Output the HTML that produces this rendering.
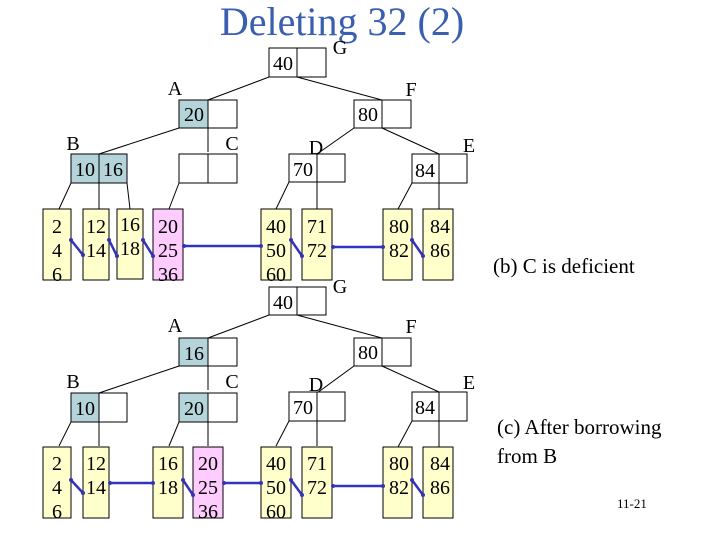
<!DOCTYPE html>
<html><head><meta charset="utf-8"><style>
html,body{margin:0;padding:0;background:#fff}
svg{display:block}
text{font-family:"Liberation Serif",serif}
</style></head><body>
<svg width="720" height="540" viewBox="0 0 720 540" xmlns="http://www.w3.org/2000/svg">
<defs>
<marker id="d" markerWidth="4" markerHeight="4" refX="2" refY="2" markerUnits="userSpaceOnUse"><circle cx="2" cy="2" r="2" fill="#3333bb"/></marker>
</defs>
<text x="342" y="35" font-size="40" fill="#3a5fb0" text-anchor="middle">Deleting 32 (2)</text>

<g stroke="#000" stroke-width="1" fill="none">
<!-- top tree -->
<line x1="269" y1="77" x2="208" y2="100"/><line x1="297" y1="77" x2="382" y2="100"/>
<line x1="179" y1="128" x2="99" y2="154"/><line x1="208" y1="128" x2="208" y2="152"/>
<line x1="354" y1="128" x2="317" y2="154"/><line x1="382" y1="128" x2="439" y2="154"/>
<line x1="71" y1="183" x2="59" y2="209"/><line x1="99" y1="183" x2="99" y2="209"/><line x1="127" y1="183" x2="130" y2="209"/>
<line x1="179" y1="183" x2="169" y2="209"/>
<line x1="289" y1="182" x2="276" y2="209"/><line x1="317" y1="182" x2="317" y2="209"/>
<line x1="412" y1="183" x2="398" y2="209"/><line x1="439" y1="183" x2="439" y2="209"/>
<!-- bottom tree -->
<line x1="269" y1="315" x2="208" y2="338"/><line x1="297" y1="315" x2="382" y2="338"/>
<line x1="179" y1="366" x2="99" y2="393"/><line x1="208" y1="366" x2="208" y2="390"/>
<line x1="354" y1="366" x2="317" y2="393"/><line x1="382" y1="366" x2="439" y2="392"/>
<line x1="71" y1="422" x2="59" y2="446"/><line x1="99" y1="422" x2="99" y2="446"/>
<line x1="179" y1="422" x2="169" y2="446"/><line x1="208" y1="422" x2="208" y2="446"/>
<line x1="289" y1="421" x2="276" y2="446"/><line x1="317" y1="421" x2="317" y2="446"/>
<line x1="412" y1="421" x2="398" y2="447"/><line x1="439" y1="421" x2="439" y2="447"/>
</g>

<g stroke="#000" stroke-width="1">
<!-- top internal nodes -->
<rect x="269" y="48" width="28" height="29" fill="#fff"/><rect x="297" y="48" width="29" height="29" fill="#fff"/>
<rect x="179" y="100" width="29" height="28" fill="#b4d4da"/><rect x="208" y="100" width="29" height="28" fill="#fff"/>
<rect x="354" y="100" width="28" height="28" fill="#fff"/><rect x="382" y="100" width="29" height="28" fill="#fff"/>
<rect x="71" y="154" width="28" height="29" fill="#b4d4da"/><rect x="99" y="154" width="28" height="29" fill="#b4d4da"/>
<rect x="179" y="154" width="29" height="29" fill="#fff"/><rect x="208" y="154" width="29" height="29" fill="#fff"/>
<rect x="289" y="154" width="28" height="28" fill="#fff"/><rect x="317" y="154" width="28" height="28" fill="#fff"/>
<rect x="412" y="154" width="27" height="29" fill="#fff"/><rect x="439" y="154" width="28" height="29" fill="#fff"/>
<!-- top leaves -->
<rect x="43" y="209" width="28" height="71" fill="#ffffcc"/>
<rect x="83" y="209" width="26" height="71" fill="#ffffcc"/>
<rect x="117" y="209" width="26" height="70" fill="#ffffcc"/>
<rect x="153" y="209" width="30" height="71" fill="#ffccff"/>
<rect x="261" y="209" width="30" height="71" fill="#ffffcc"/>
<rect x="302" y="209" width="30" height="71" fill="#ffffcc"/>
<rect x="383" y="209" width="29" height="71" fill="#ffffcc"/>
<rect x="423" y="209" width="30" height="71" fill="#ffffcc"/>
<!-- bottom internal -->
<rect x="269" y="287" width="28" height="28" fill="#fff"/><rect x="297" y="287" width="29" height="28" fill="#fff"/>
<rect x="179" y="338" width="29" height="28" fill="#b4d4da"/><rect x="208" y="338" width="29" height="28" fill="#fff"/>
<rect x="354" y="338" width="28" height="28" fill="#fff"/><rect x="382" y="338" width="29" height="28" fill="#fff"/>
<rect x="71" y="393" width="28" height="29" fill="#b4d4da"/><rect x="99" y="393" width="28" height="29" fill="#fff"/>
<rect x="179" y="393" width="29" height="29" fill="#b4d4da"/><rect x="208" y="393" width="29" height="29" fill="#fff"/>
<rect x="289" y="392" width="28" height="29" fill="#fff"/><rect x="317" y="392" width="28" height="29" fill="#fff"/>
<rect x="412" y="392" width="27" height="29" fill="#fff"/><rect x="439" y="392" width="28" height="29" fill="#fff"/>
<!-- bottom leaves -->
<rect x="43" y="447" width="28" height="71" fill="#ffffcc"/>
<rect x="83" y="447" width="26" height="71" fill="#ffffcc"/>
<rect x="153" y="447" width="30" height="71" fill="#ffffcc"/>
<rect x="193" y="447" width="30" height="71" fill="#ffccff"/>
<rect x="261" y="447" width="30" height="71" fill="#ffffcc"/>
<rect x="302" y="447" width="30" height="71" fill="#ffffcc"/>
<rect x="383" y="447" width="29" height="71" fill="#ffffcc"/>
<rect x="423" y="447" width="30" height="71" fill="#ffffcc"/>
</g>

<g stroke="#3333bb" stroke-width="2.5" marker-start="url(#d)" marker-end="url(#d)">
<line x1="71" y1="240" x2="83" y2="255"/>
<line x1="109" y1="240" x2="117" y2="256"/>
<line x1="143" y1="240" x2="153" y2="256"/>
<line x1="184" y1="246" x2="261" y2="246"/>
<line x1="291" y1="240" x2="302" y2="256"/>
<line x1="333" y1="247" x2="383" y2="247"/>
<line x1="412" y1="240" x2="423" y2="256"/>
<line x1="71" y1="480" x2="83" y2="493"/>
<line x1="110" y1="483" x2="153" y2="483"/>
<line x1="183" y1="480" x2="193" y2="495"/>
<line x1="224" y1="483" x2="261" y2="483"/>
<line x1="291" y1="480" x2="302" y2="495"/>
<line x1="333" y1="486" x2="383" y2="486"/>
<line x1="412" y1="480" x2="423" y2="495"/>
</g>

<g font-size="20" fill="#000" text-anchor="middle">
<!-- top nodes -->
<text x="283" y="70">40</text>
<text x="194" y="121">20</text>
<text x="368" y="121">80</text>
<text x="85" y="176">10</text><text x="113" y="176">16</text>
<text x="303" y="176">70</text>
<text x="425" y="177">84</text>
<!-- labels top -->
<text x="340" y="54">G</text><text x="175" y="95">A</text><text x="411" y="96">F</text>
<text x="73" y="150">B</text><text x="232" y="150">C</text><text x="316" y="154">D</text><text x="469" y="152">E</text>
<!-- top leaves -->
<text x="57" y="233">2</text><text x="57" y="257">4</text><text x="57" y="281">6</text>
<text x="96" y="233">12</text><text x="96" y="257">14</text>
<text x="130" y="231">16</text><text x="130" y="255">18</text>
<text x="168" y="233">20</text><text x="168" y="257">25</text><text x="168" y="281">36</text>
<text x="276" y="233">40</text><text x="276" y="257">50</text><text x="276" y="281">60</text>
<text x="317" y="233">71</text><text x="317" y="257">72</text>
<text x="399" y="233">80</text><text x="399" y="257">82</text>
<text x="440" y="233">84</text><text x="440" y="257">86</text>
<!-- bottom nodes -->
<text x="283" y="309">40</text>
<text x="194" y="360">16</text>
<text x="368" y="359">80</text>
<text x="85" y="415">10</text>
<text x="194" y="415">20</text>
<text x="303" y="414">70</text>
<text x="425" y="414">84</text>
<text x="340" y="293">G</text><text x="175" y="332">A</text><text x="411" y="333">F</text>
<text x="73" y="388">B</text><text x="232" y="388">C</text><text x="316" y="391">D</text><text x="469" y="389">E</text>
<!-- bottom leaves -->
<text x="57" y="470">2</text><text x="57" y="494">4</text><text x="57" y="518">6</text>
<text x="96" y="470">12</text><text x="96" y="494">14</text>
<text x="168" y="470">16</text><text x="168" y="494">18</text>
<text x="208" y="470">20</text><text x="208" y="494">25</text><text x="208" y="518">36</text>
<text x="276" y="470">40</text><text x="276" y="494">50</text><text x="276" y="518">60</text>
<text x="317" y="470">71</text><text x="317" y="494">72</text>
<text x="399" y="470">80</text><text x="399" y="494">82</text>
<text x="440" y="470">84</text><text x="440" y="494">86</text>
</g>

<g font-size="21" fill="#000">
<text x="493" y="273">(b) C is deficient</text>
<text x="497" y="434">(c) After borrowing</text>
<text x="497" y="463">from B</text>
</g>
<text x="617" y="508" font-size="13" fill="#000">11-21</text>
</svg>
</body></html>
